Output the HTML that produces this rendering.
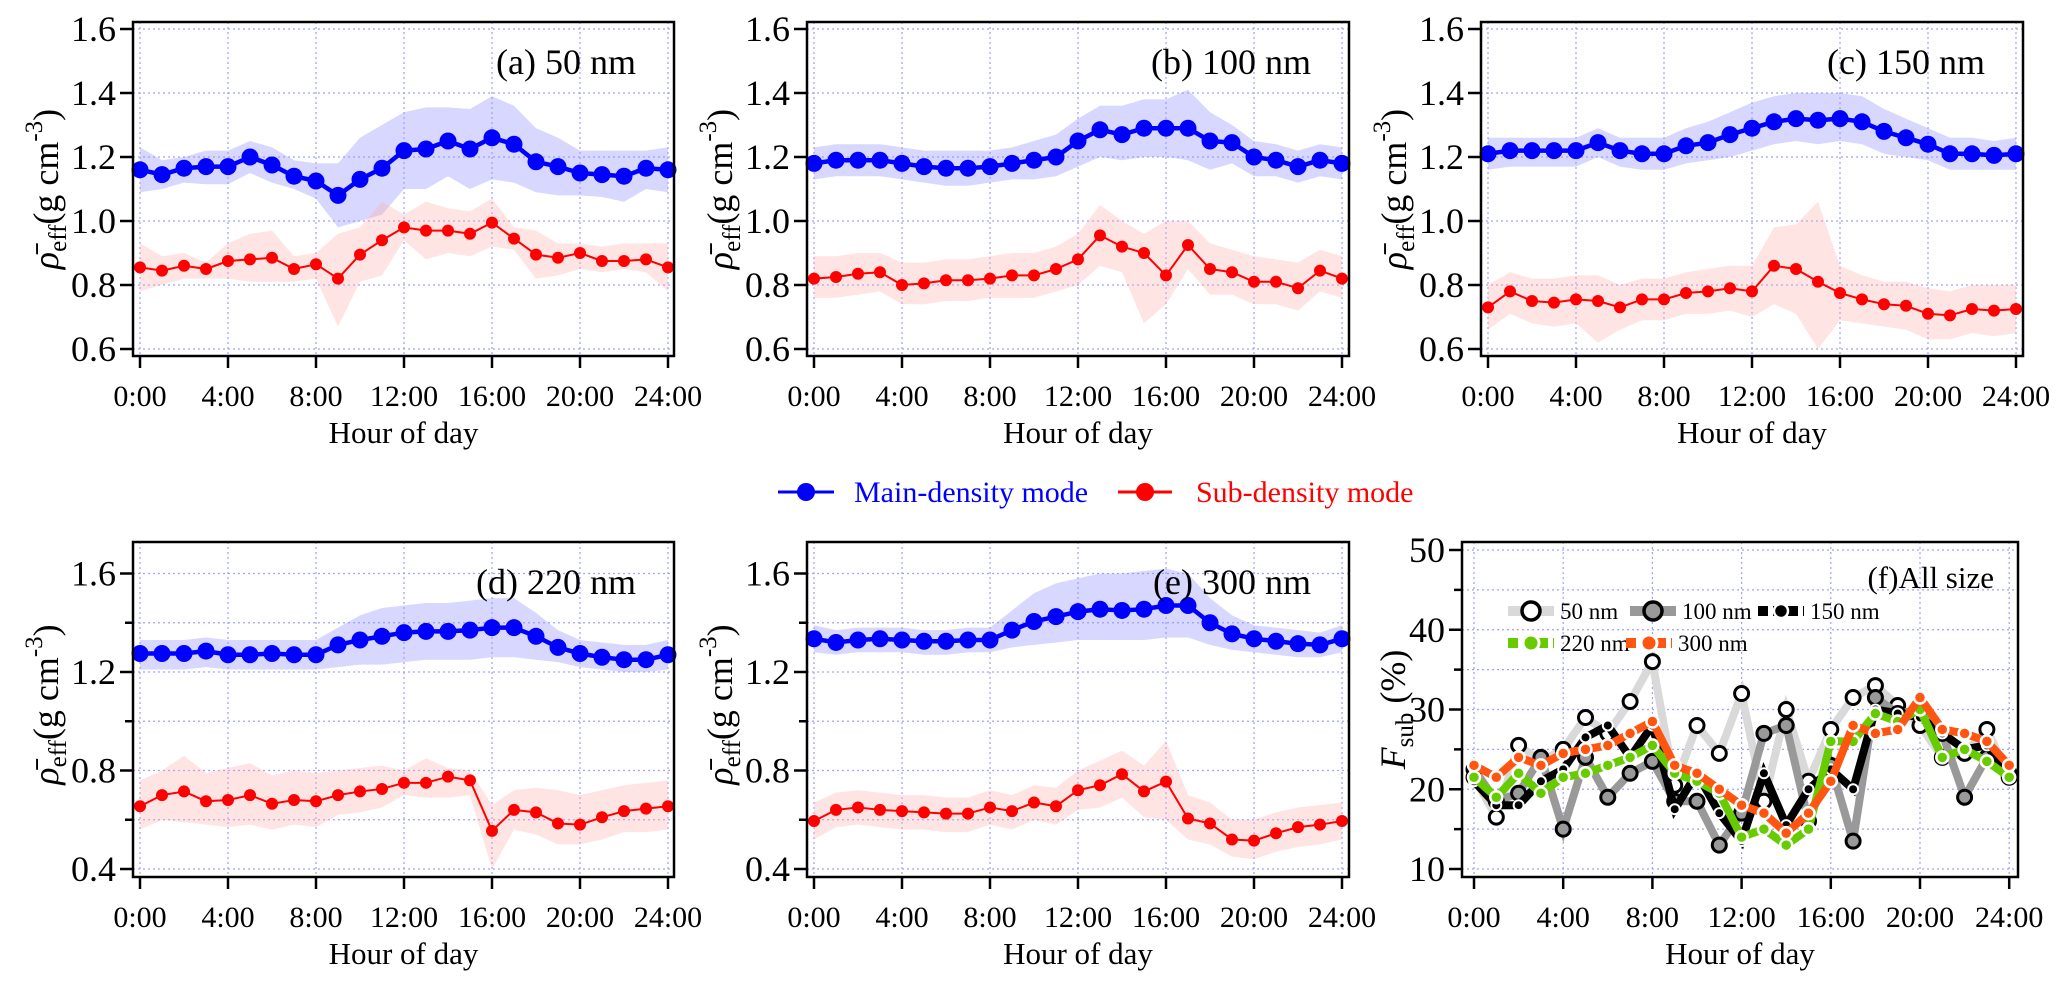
<!DOCTYPE html>
<html><head><meta charset="utf-8">
<style>
html,body{margin:0;padding:0;background:#fff;}
svg{display:block;font-family:"Liberation Serif",serif;}
</style></head>
<body>
<svg id="chart" width="2067" height="993" viewBox="0 0 2067 993" xmlns="http://www.w3.org/2000/svg"></svg>
<script>
const hours = [0,1,2,3,4,5,6,7,8,9,10,11,12,13,14,15,16,17,18,19,20,21,22,23,24];
const xTickLabels = ["0:00","4:00","8:00","12:00","16:00","20:00","24:00"];
const row1YTicks = [0.6,0.8,1.0,1.2,1.4,1.6];
const row2YTicks = [0.4,0.6,0.8,1.0,1.2,1.4,1.6];
const fYTicks = [10,15,20,25,30,35,40,45,50];

const aMain = [1.16,1.145,1.165,1.17,1.17,1.2,1.175,1.14,1.125,1.08,1.13,1.165,1.22,1.225,1.25,1.225,1.26,1.24,1.185,1.17,1.15,1.145,1.14,1.165,1.16];
const aMainHi = [1.23,1.19,1.2,1.22,1.22,1.25,1.23,1.19,1.18,1.18,1.26,1.3,1.34,1.355,1.355,1.35,1.39,1.36,1.29,1.26,1.22,1.22,1.22,1.22,1.23];
const aMainLo = [1.09,1.1,1.12,1.115,1.115,1.15,1.12,1.1,1.07,0.98,1.0,1.02,1.1,1.1,1.14,1.1,1.13,1.12,1.09,1.08,1.08,1.075,1.06,1.1,1.09];
const aSub = [0.855,0.845,0.86,0.85,0.875,0.88,0.885,0.85,0.865,0.82,0.895,0.94,0.98,0.97,0.97,0.96,0.995,0.945,0.895,0.885,0.9,0.875,0.875,0.88,0.855];
const aSubHi = [0.93,0.89,0.9,0.87,0.93,0.96,0.97,0.89,0.9,0.96,0.98,1.06,1.02,1.06,1.04,1.03,1.07,0.98,0.97,0.93,0.93,0.92,0.93,0.93,0.93];
const aSubLo = [0.78,0.8,0.82,0.82,0.82,0.81,0.81,0.81,0.82,0.67,0.81,0.83,0.94,0.88,0.9,0.89,0.92,0.91,0.82,0.83,0.85,0.84,0.85,0.84,0.78];

const bMain = [1.18,1.19,1.19,1.19,1.18,1.17,1.165,1.165,1.17,1.18,1.19,1.2,1.25,1.285,1.27,1.29,1.29,1.29,1.25,1.245,1.2,1.19,1.17,1.19,1.18];
const bMainHi = [1.23,1.24,1.24,1.24,1.23,1.22,1.22,1.22,1.22,1.23,1.25,1.27,1.32,1.36,1.36,1.38,1.38,1.41,1.34,1.3,1.25,1.24,1.22,1.24,1.23];
const bMainLo = [1.13,1.14,1.14,1.14,1.13,1.12,1.11,1.11,1.12,1.13,1.13,1.14,1.17,1.2,1.19,1.2,1.2,1.19,1.16,1.18,1.14,1.14,1.12,1.14,1.13];
const bSub = [0.82,0.825,0.835,0.84,0.8,0.805,0.815,0.815,0.82,0.83,0.83,0.85,0.88,0.955,0.92,0.9,0.83,0.925,0.85,0.84,0.81,0.81,0.79,0.845,0.82];
const bSubHi = [0.89,0.89,0.9,0.9,0.87,0.87,0.88,0.88,0.89,0.9,0.9,0.92,0.96,1.05,1.0,0.96,1.0,1.0,0.93,0.91,0.89,0.88,0.87,0.91,0.89];
const bSubLo = [0.76,0.76,0.77,0.78,0.74,0.74,0.75,0.75,0.76,0.76,0.76,0.78,0.8,0.86,0.84,0.68,0.74,0.85,0.77,0.77,0.74,0.74,0.72,0.78,0.76];

const cMain = [1.21,1.22,1.22,1.22,1.22,1.245,1.22,1.21,1.21,1.235,1.245,1.27,1.29,1.31,1.32,1.315,1.32,1.31,1.28,1.26,1.24,1.21,1.21,1.205,1.21];
const cMainHi = [1.26,1.26,1.26,1.26,1.26,1.29,1.26,1.26,1.26,1.29,1.31,1.34,1.37,1.39,1.4,1.4,1.4,1.39,1.35,1.32,1.29,1.26,1.26,1.25,1.26];
const cMainLo = [1.16,1.17,1.17,1.17,1.17,1.2,1.17,1.16,1.16,1.18,1.19,1.2,1.22,1.24,1.25,1.24,1.25,1.24,1.21,1.2,1.19,1.16,1.16,1.16,1.16];
const cSub = [0.73,0.78,0.75,0.745,0.755,0.75,0.73,0.755,0.755,0.775,0.78,0.79,0.78,0.86,0.85,0.81,0.775,0.755,0.74,0.735,0.71,0.705,0.725,0.72,0.725];
const cSubHi = [0.8,0.84,0.82,0.82,0.83,0.83,0.8,0.82,0.82,0.84,0.85,0.86,0.86,0.98,0.99,1.06,0.86,0.83,0.81,0.81,0.79,0.78,0.8,0.8,0.8];
const cSubLo = [0.66,0.71,0.68,0.67,0.68,0.62,0.66,0.69,0.69,0.71,0.71,0.72,0.7,0.74,0.71,0.6,0.69,0.68,0.67,0.66,0.63,0.63,0.65,0.64,0.65];

const dMain = [1.275,1.275,1.275,1.285,1.27,1.27,1.275,1.27,1.27,1.31,1.33,1.345,1.36,1.365,1.365,1.37,1.38,1.38,1.345,1.3,1.275,1.26,1.25,1.25,1.27];
const dMainHi = [1.33,1.33,1.33,1.34,1.33,1.33,1.33,1.33,1.33,1.38,1.43,1.46,1.47,1.48,1.48,1.49,1.5,1.5,1.44,1.37,1.33,1.32,1.31,1.31,1.33];
const dMainLo = [1.21,1.21,1.21,1.22,1.21,1.21,1.21,1.21,1.21,1.22,1.23,1.23,1.24,1.25,1.25,1.25,1.26,1.26,1.25,1.24,1.22,1.21,1.2,1.2,1.21];
const dSub = [0.655,0.70,0.715,0.675,0.68,0.70,0.665,0.68,0.675,0.70,0.715,0.725,0.75,0.75,0.775,0.76,0.555,0.64,0.63,0.585,0.58,0.61,0.635,0.645,0.655];
const dSubHi = [0.76,0.8,0.86,0.79,0.81,0.83,0.78,0.8,0.79,0.8,0.81,0.82,0.8,0.85,0.81,0.8,0.66,0.72,0.73,0.72,0.7,0.72,0.74,0.75,0.76];
const dSubLo = [0.56,0.6,0.59,0.58,0.57,0.58,0.56,0.58,0.57,0.62,0.63,0.65,0.7,0.69,0.69,0.7,0.4,0.56,0.54,0.5,0.5,0.52,0.55,0.55,0.56];

const eMain = [1.335,1.32,1.33,1.335,1.33,1.325,1.325,1.33,1.33,1.37,1.405,1.425,1.445,1.455,1.45,1.455,1.47,1.47,1.4,1.355,1.335,1.325,1.315,1.31,1.335];
const eMainHi = [1.39,1.37,1.38,1.38,1.38,1.37,1.37,1.38,1.38,1.45,1.52,1.56,1.58,1.6,1.6,1.61,1.62,1.6,1.5,1.43,1.39,1.38,1.37,1.36,1.39];
const eMainLo = [1.28,1.27,1.28,1.28,1.28,1.27,1.27,1.28,1.28,1.3,1.31,1.32,1.33,1.33,1.33,1.33,1.34,1.34,1.31,1.29,1.28,1.27,1.26,1.26,1.28];
const eSub = [0.595,0.64,0.65,0.64,0.635,0.63,0.625,0.625,0.65,0.635,0.67,0.655,0.72,0.74,0.785,0.715,0.755,0.605,0.585,0.52,0.515,0.545,0.57,0.58,0.595];
const eSubHi = [0.67,0.71,0.72,0.71,0.7,0.7,0.69,0.69,0.72,0.7,0.74,0.73,0.8,0.84,0.88,0.82,0.92,0.7,0.67,0.6,0.6,0.63,0.65,0.66,0.67];
const eSubLo = [0.52,0.57,0.58,0.57,0.56,0.56,0.55,0.55,0.58,0.56,0.6,0.58,0.64,0.65,0.69,0.61,0.6,0.52,0.5,0.45,0.44,0.47,0.49,0.5,0.52];

const f50 = [21.5,16.5,25.5,23.5,25,29,27,31,36,20.5,28,24.5,32,18.5,30,21,27.5,31.5,33,30.5,28,24,24.5,27.5,21.5];
const f100 = [22.5,18.5,19.5,24,15,24,19,22,23.5,18.5,18.5,13,17,27,28,16,23,13.5,31.5,29.5,30,27,19,24,22];
const f150 = [21,18,18,21,22.5,26.5,28,24,28,17.5,22,17,13.5,22,15.5,20,22.5,20,30,29.5,29,27,25,25.5,21.5];
const f220 = [21.5,19,22,19.5,21.5,22,23,24,25.5,22,21,19.5,14,15,13,15,26,26,29.5,28.5,30,24,25,23.5,21.5];
const f300 = [23,21.5,24,23,24.5,25,25.5,27,28.5,23,22,20,18,17,14.5,17,21,28,27,27.5,31.5,27.5,27,26,23];

const NS = "http://www.w3.org/2000/svg";
const svg = document.getElementById('chart');
function mk(tag, attrs, parent){
  const e = document.createElementNS(NS, tag);
  for (const k in attrs) e.setAttribute(k, attrs[k]);
  (parent||svg).appendChild(e);
  return e;
}
const GRID = "#a0a0ff";

function axes(g, L, T, R, B, xf, yf, yTicks){
  yTicks.forEach((v)=>{
    const ln = mk('line',{x1:L,x2:R,y1:yf(v),y2:yf(v),stroke:GRID,'stroke-width':1.2,'stroke-dasharray':'2,3'},g);
    
    
  });
  xTickLabels.forEach((t,i)=>{
    const x = xf(i*4);
    const ln = mk('line',{x1:x,x2:x,y1:T,y2:B,stroke:GRID,'stroke-width':1.2,'stroke-dasharray':'2,3'},g);
    
    
  });
}
function frame(g, L, T, R, B, xf, yf, yTicks, labelFn){
  const r = mk('rect',{x:L,y:T,width:R-L,height:B-T,fill:'none',stroke:'#000','stroke-width':2.5},g);
  
  
  xTickLabels.forEach((t,i)=>{
    const x = xf(i*4);
    mk('line',{x1:x,x2:x,y1:B,y2:B+12,stroke:'#000','stroke-width':2.5},g);
    const tx = mk('text',{x:x,y:B+50,'font-size':30,'text-anchor':'middle',fill:'#000'},g);
    tx.textContent = t;
    
    
  });
  yTicks.forEach(v=>{
    const y = yf(v);
    const lab = labelFn(v);
    mk('line',{x1:L-(lab?13:8),x2:L,y1:y,y2:y,stroke:'#000','stroke-width':2.5},g);
    if (lab){
      const tx = mk('text',{x:L-17,y:y+12,'font-size':36,'text-anchor':'end',fill:'#000'},g);
      tx.textContent = lab;
      
      
    }
  });
  const xt = mk('text',{x:(L+R)/2,y:B+87,'font-size':31,'text-anchor':'middle',fill:'#000'},g);
  xt.textContent = 'Hour of day';
  
  
}
function rhoLabel(g, x, y){
  const t = mk('text',{x:0,y:0,'font-size':36,'text-anchor':'middle',transform:`translate(${x},${y}) rotate(-90)`,fill:'#000'},g);
  
  
  t.innerHTML = '<tspan font-style="italic">ρ̄</tspan><tspan font-size="25" dy="8">eff</tspan><tspan dy="-8">(g cm</tspan><tspan font-size="25" dy="-16">-3</tspan><tspan dy="16">)</tspan>';
}
function band(g, xf, yf, hi, lo, fill, name){
  let d = '';
  hours.forEach((h,i)=>{ d += (i?'L':'M') + xf(h) + ',' + yf(hi[i]); });
  for (let i=hours.length-1;i>=0;i--) d += 'L' + xf(hours[i]) + ',' + yf(lo[i]);
  const p = mk('path',{d:d+'Z',fill:fill,stroke:'none'},g);
  
  
}
function series(g, xf, yf, vals, color, lw, r, name){
  const pts = hours.map((h,i)=>xf(h)+','+yf(vals[i])).join(' ');
  const pl = mk('polyline',{points:pts,fill:'none',stroke:color,'stroke-width':lw,'stroke-linejoin':'round'},g);
  
  
  hours.forEach((h,i)=>{
    const c = mk('circle',{cx:xf(h),cy:yf(vals[i]),r:r,fill:color},g);
    
    
  });
}

const panels = [
  {id:'a',label:'(a) 50 nm',L:133,R:674,row:1,m:aMain,mh:aMainHi,ml:aMainLo,s:aSub,sh:aSubHi,sl:aSubLo},
  {id:'b',label:'(b) 100 nm',L:807,R:1349,row:1,m:bMain,mh:bMainHi,ml:bMainLo,s:bSub,sh:bSubHi,sl:bSubLo},
  {id:'c',label:'(c)  150 nm',L:1481,R:2023,row:1,m:cMain,mh:cMainHi,ml:cMainLo,s:cSub,sh:cSubHi,sl:cSubLo},
  {id:'d',label:'(d) 220 nm',L:133,R:674,row:2,m:dMain,mh:dMainHi,ml:dMainLo,s:dSub,sh:dSubHi,sl:dSubLo},
  {id:'e',label:'(e) 300 nm',L:807,R:1349,row:2,m:eMain,mh:eMainHi,ml:eMainLo,s:eSub,sh:eSubHi,sl:eSubLo},
];
panels.forEach(p=>{
  const g = mk('g',{});
  
  
  const T = p.row===1?22:542, B = p.row===1?356:877;
  const xf = h => p.L + 7 + h*22;
  const yf = p.row===1 ? (v => 29 + (1.6 - v)*320) : (v => 869 - (v - 0.4)*246.25);
  const ticks = p.row===1 ? row1YTicks : row2YTicks;
  const labFn = p.row===1 ? (v=>v.toFixed(1)) : (v=>([0.4,0.8,1.2,1.6].some(t=>Math.abs(t-v)<1e-6)?v.toFixed(1):''));
  axes(g,p.L,T,p.R,B,xf,yf,ticks);
  band(g,xf,yf,p.mh,p.ml,'rgba(150,150,255,0.38)','main-density-band');
  band(g,xf,yf,p.sh,p.sl,'rgba(255,170,170,0.32)','sub-density-band');
  series(g,xf,yf,p.m,'#0000ff',4.5,8.5,'main-density');
  series(g,xf,yf,p.s,'#ff0000',2,6,'sub-density');
  frame(g,p.L,T,p.R,B,xf,yf,ticks,labFn);
  rhoLabel(g,p.L-75,(T+B)/2 - (p.row===1?0:5));
  const lt = mk('text',{x:p.R-38,y:T+52,'font-size':36,'text-anchor':'end',fill:'#000'},g);
  lt.textContent = p.label;
  
  
});

// Panel f
(function(){
  const g = mk('g',{});
  
  
  const L=1462,R=2018,T=542,B=877;
  const xf = h => 1474 + h*22.3;
  const yf = v => 869 - (v-10)*7.975;
  axes(g,L,T,R,B,xf,yf,fYTicks);
  const styles = [
    {v:f50, line:'#d9d9d9', mf:'#ffffff', ms:'#000', r:7, sw:3, name:'50nm'},
    {v:f100, line:'#999999', mf:'#999999', ms:'#000', r:7, sw:3, name:'100nm'},
    {v:f150, line:'#000000', mf:'#000000', ms:'#fff', r:5, sw:2, name:'150nm'},
    {v:f220, line:'#66cc00', mf:'#66cc00', ms:'#fff', r:6, sw:2.5, name:'220nm'},
    {v:f300, line:'#ff5511', mf:'#ff5511', ms:'#fff', r:6, sw:2.5, name:'300nm'},
  ];
  styles.forEach(s=>{
    const pts = hours.map((h,i)=>xf(h)+','+yf(s.v[i])).join(' ');
    const pl = mk('polyline',{points:pts,fill:'none',stroke:s.line,'stroke-width':8,'stroke-linejoin':'miter'},g);
    
    
    hours.forEach((h,i)=>{
      const c = mk('circle',{cx:xf(h),cy:yf(s.v[i]),r:s.r,fill:s.mf,stroke:s.ms,'stroke-width':s.sw},g);
      
      
    });
  });
  frame(g,L,T,R,B,xf,yf,fYTicks,v=>(v%10===0?String(v):''));
  const yt = mk('text',{x:0,y:0,'font-size':36,'text-anchor':'middle',transform:`translate(1405,${(T+B)/2}) rotate(-90)`,fill:'#000'},g);
  yt.innerHTML = '<tspan font-style="italic">F</tspan><tspan font-size="25" dy="8">sub</tspan><tspan dy="-8"> (%)</tspan>';
  
  
  const ft = mk('text',{x:1994,y:588,'font-size':31,'text-anchor':'end',fill:'#000'},g);
  ft.textContent = '(f)All size';
  
  
  const leg = [
    {s:0,x:1508,y:611,label:'50 nm',dash:''},
    {s:1,x:1630,y:611,label:'100 nm',dash:''},
    {s:2,x:1758,y:611,label:'150 nm',dash:'10,5'},
    {s:3,x:1508,y:643,label:'220 nm',dash:'10,5'},
    {s:4,x:1626,y:643,label:'300 nm',dash:'10,5'},
  ];
  leg.forEach(e=>{
    const s = styles[e.s];
    const lg = mk('g',{},g);
    
    
    mk('line',{x1:e.x,x2:e.x+46,y1:e.y,y2:e.y,stroke:s.line,'stroke-width':10,'stroke-dasharray':e.dash},lg);
    mk('circle',{cx:e.x+23,cy:e.y,r:s.r+2,fill:s.mf,stroke:s.ms,'stroke-width':s.sw+0.5},lg);
    const t = mk('text',{x:e.x+52,y:e.y+8,'font-size':23,fill:'#000'},lg);
    t.textContent = e.label;
  });
})();

// main legend
(function(){
  const g = mk('g',{});
  
  
  const items = [
    {x1:778,x2:834,tx:854,color:'#0000ff',label:'Main-density mode'},
    {x1:1118,x2:1172,tx:1196,color:'#ff0000',label:'Sub-density mode'},
  ];
  items.forEach(it=>{
    const e = mk('g',{},g);
    
    
    mk('line',{x1:it.x1,x2:it.x2,y1:492,y2:492,stroke:it.color,'stroke-width':3},e);
    mk('circle',{cx:(it.x1+it.x2)/2,cy:492,r:9,fill:it.color},e);
    const t = mk('text',{x:it.tx,y:502,'font-size':30,fill:it.color},e);
    t.textContent = it.label;
  });
})();
</script>
</body></html>
